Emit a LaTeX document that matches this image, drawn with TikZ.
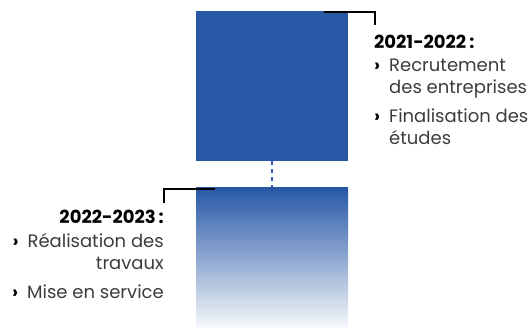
\documentclass[tikz,border=0pt]{standalone}
\usepackage{fontspec}
\setmainfont{Poppins}
\usepackage{tikz}
\usetikzlibrary{positioning}

\definecolor{bleu}{HTML}{2858A5}
\definecolor{texte}{HTML}{3C3C3C}
\newcommand{\puce}{\makebox[15pt][l]{\bfseries\color{black}›}}

\tikzset{
  carre/.style={minimum width=152pt, minimum height=150pt, inner sep=0pt},
  jalon/.style={line width=2.6pt, black},
  bloc/.style={inner sep=0pt, font=\fontsize{18}{22}\selectfont, text=texte},
}

\begin{document}
\begin{tikzpicture}[x=1pt, y=1pt]
  \useasboundingbox (0,0) rectangle (531,328);
  % les deux periodes
  \node[carre, fill=bleu] (haut) at (272,242) {};
  \node[carre, minimum height=140pt, top color=bleu, bottom color=bleu!4] (bas) at (272,70) {};
  \draw[bleu, line width=2.4pt, dash pattern=on 4pt off 4pt] (haut.south) -- (bas.north);
  % reperes
  \coordinate (j1a) at (324,316);
  \coordinate (j1b) at (375,316);
  \coordinate (j1c) at (375,303);
  \draw[jalon] (j1a) -- (j1b) -- (j1c);
  \coordinate (j2a) at (215,139);
  \coordinate (j2b) at (164,139);
  \coordinate (j2c) at (164,125);
  \draw[jalon] (j2a) -- (j2b) -- (j2c);
  % textes
  \node[bloc, align=left, anchor=base west] (t1) at (374,183)
    {{\bfseries\color{black}2021-2022\,:}\\[1pt]
     \puce Recrutement\\
     \hspace{15pt}des entreprises\\[7pt]
     \puce Finalisation des\\
     \hspace{15pt}études};
  \node[bloc, align=right, anchor=base east] (t2) at (164,29)
    {{\bfseries\color{black}2022-2023\,:}\\[2pt]
     \puce Réalisation des\\
     travaux\\[7pt]
     \puce Mise en service};
\end{tikzpicture}
\end{document}
